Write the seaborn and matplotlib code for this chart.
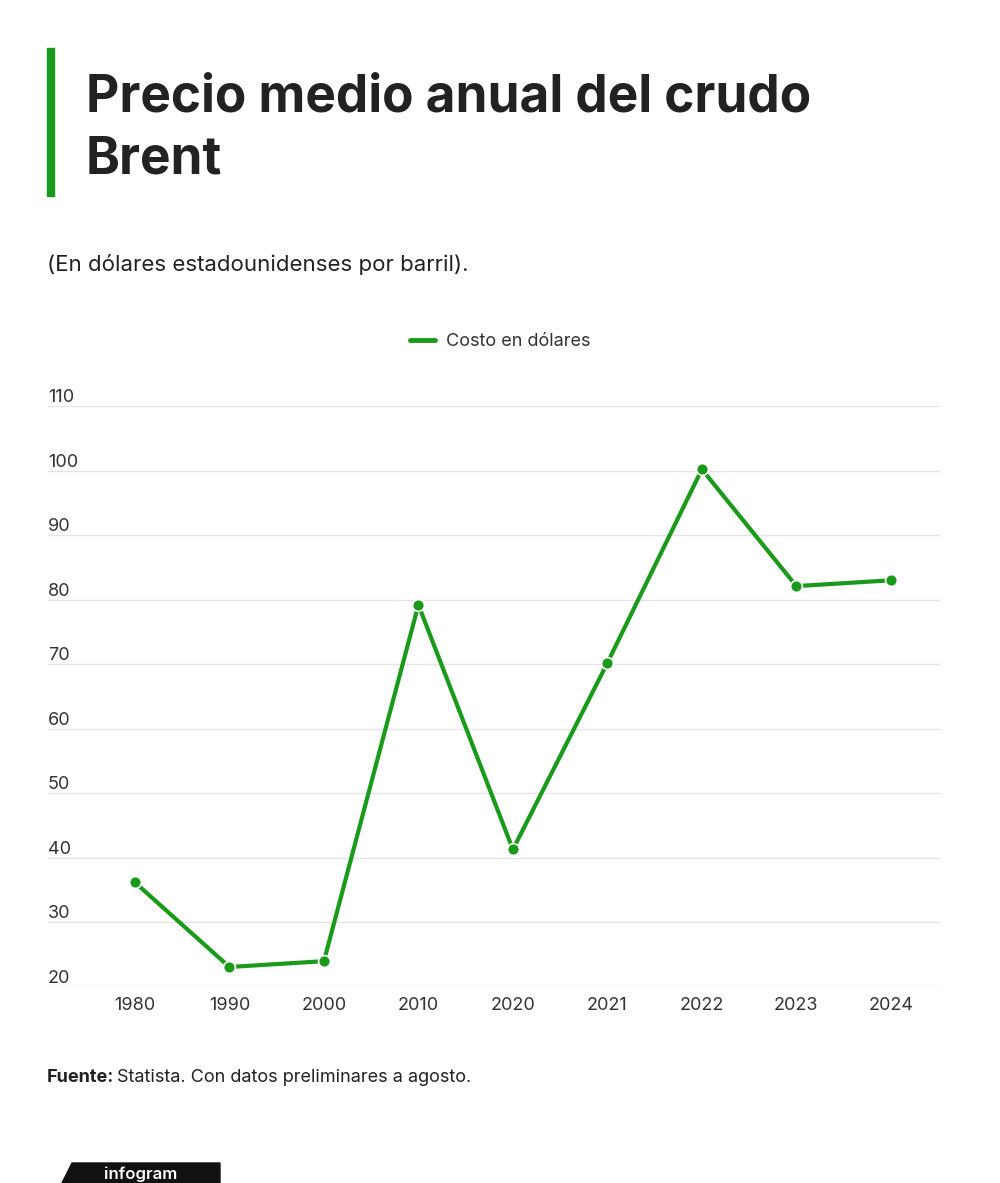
import matplotlib
matplotlib.use("Agg")
import matplotlib.pyplot as plt
import matplotlib.transforms as mtransforms
from matplotlib.patches import Rectangle, Polygon
import seaborn as sns
import pandas as pd

# Data
years = ["1980", "1990", "2000", "2010", "2020", "2021", "2022", "2023", "2024"]
price = [36.2, 23.1, 24.0, 79.2, 41.3, 70.2, 100.2, 82.1, 83.0]
y_ticks = [20, 30, 40, 50, 60, 70, 80, 90, 100, 110]

title = "Precio medio anual del crudo\nBrent"
subtitle = "(En dólares estadounidenses por barril)."
series_name = "Costo en dólares"

GREEN = "#1a9a1a"
TEXT = "#222222"
GRID = "#e4e4e4"

df = pd.DataFrame({"year": years, "price": price})

sns.set_theme(style="white")
plt.rcParams["font.family"] = ["Inter", "DejaVu Sans"]

fig = plt.figure(figsize=(10, 11.83), dpi=100)
ax = fig.add_axes([0.048, 1 - 987 / 1183, 0.892, (987 - 406) / 1183])

sns.lineplot(data=df, x="year", y="price", ax=ax, color=GREEN, linewidth=3.0,
             marker="o", markersize=8.5, markeredgecolor="white", markeredgewidth=1.2,
             sort=False, label=series_name)

ax.set_ylim(20, 110)
ax.set_xlim(-0.92, 8.52)
ax.set_yticks(y_ticks)
ax.set_xlabel("")
ax.set_ylabel("")
ax.grid(axis="y", color=GRID, linewidth=1)
ax.grid(axis="x", visible=False)
for s in ax.spines.values():
    s.set_visible(False)
ax.tick_params(axis="x", length=0, pad=7, labelsize=13, labelcolor="#333333")
ax.tick_params(axis="y", length=0, pad=0, labelsize=13, labelcolor="#333333")

# y labels sit above the gridlines, inside the plot at the left
for lab in ax.get_yticklabels():
    lab.set_horizontalalignment("left")
    lab.set_verticalalignment("bottom")

# legend centred above the plot
leg = ax.legend(loc="lower center", bbox_to_anchor=(0.507, 1.068), frameon=False,
                fontsize=13, handlelength=1.4, handletextpad=0.6)
for h in leg.get_lines():
    h.set_marker("")
    h.set_linewidth(3.5)
for t in leg.get_texts():
    t.set_color("#333333")

# title block
fig.patches.append(Rectangle((47 / 1000, 1 - 196 / 1183), 7 / 1000, 148 / 1183,
                             transform=fig.transFigure, color=GREEN))
fig.text(0.086, 1 - 129 / 1183, title, fontsize=37, fontweight="bold", color=TEXT,
         va="center", ha="left", linespacing=1.36)
fig.text(0.047, 1 - 265 / 1183, subtitle, fontsize=16, color=TEXT, va="center", ha="left")

# source
t1 = fig.text(0.047, 1 - 1078 / 1183, "Fuente:", fontsize=13, fontweight="bold",
              color=TEXT, va="center", ha="left")
fig.canvas.draw()
bb = t1.get_window_extent()
fig.text(bb.x1 / 1000 + 0.003, 1 - 1078 / 1183, "Statista. Con datos preliminares a agosto.",
         fontsize=13, color=TEXT, va="center", ha="left")

# infogram badge at the bottom
H = 1183
logo = Polygon([(62 / 1000, 0), (72 / 1000, 1 - 1163 / H), (220 / 1000, 1 - 1163 / H),
                (220 / 1000, 0)], closed=True, transform=fig.transFigure, color="#111111")
fig.patches.append(logo)
fig.text(141 / 1000, 1 - 1166 / H, "infogram", fontsize=12, fontweight="semibold",
         color="white", ha="center", va="top")

fig.savefig("out.png", dpi=100, facecolor="white")
